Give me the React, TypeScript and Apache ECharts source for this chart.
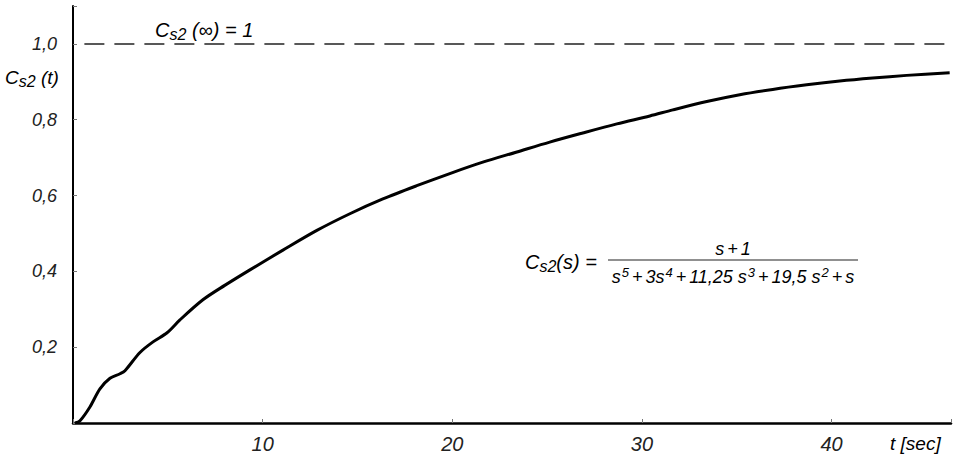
import React, { useEffect, useRef } from "react";
import * as echarts from "echarts";

// time t [sec] and step response C_s2(t)
const tValues = [0.1, 0.37, 0.9, 1.42, 1.95, 2.48, 2.74, 3.53, 4.22, 4.96, 5.64, 6.85, 8.0, 9.33, 11.07, 12.86, 14.6, 16.34, 18.13, 19.87, 21.61, 23.41, 25.14, 26.88, 28.68, 30.42, 31.63, 33.42, 35.16, 36.9, 38.69, 40.43, 42.17, 43.96, 46.23];
const cValues = [0, 0.006, 0.043, 0.09, 0.118, 0.13, 0.138, 0.186, 0.214, 0.238, 0.272, 0.325, 0.363, 0.404, 0.456, 0.508, 0.552, 0.591, 0.626, 0.658, 0.688, 0.715, 0.741, 0.765, 0.789, 0.81, 0.826, 0.848, 0.866, 0.88, 0.892, 0.902, 0.91, 0.917, 0.924];

// asymptote C_s2(inf) = 1
const asymptoteT = [0.6, 46.3];
const asymptoteC = [1, 1];

const xTickValues = [10, 20, 30, 40];
const xTickLabels = ["10", "20", "30", "40"];
const yTickValues = [0.2, 0.4, 0.6, 0.8, 1.0];
const yTickLabels = ["0,2", "0,4", "0,6", "0,8", "1,0"];

const FONT = "'Liberation Sans', Arimo, sans-serif";

export default function App() {
  const ref = useRef<HTMLDivElement>(null);
  useEffect(() => {
    document.body.style.margin = "0";
    const chart = echarts.init(ref.current!, null, { renderer: "svg" });
    const base = { fontFamily: FONT, fontStyle: "italic", color: "#222" };
    chart.setOption({
      animation: false,
      backgroundColor: "#fff",
      grid: { left: 73, right: 2, top: 6, bottom: 36, containLabel: false },
      xAxis: {
        type: "value",
        min: 0,
        max: 46.3,
        interval: 10,
        splitLine: { show: false },
        axisLine: { lineStyle: { color: "#000", width: 2.5 } },
        axisTick: { inside: true, length: 4, lineStyle: { color: "#777", width: 1 } },
        axisLabel: {
          margin: 11,
          ...base,
          fontSize: 20,
          formatter: (v: number) => {
            const i = xTickValues.indexOf(Math.round(v));
            return i >= 0 ? xTickLabels[i] : "";
          },
        },
      },
      yAxis: {
        type: "value",
        min: 0,
        max: 1.1,
        interval: 0.2,
        splitLine: { show: false },
        axisLine: { lineStyle: { color: "#000", width: 2 } },
        axisTick: { inside: true, length: 4, lineStyle: { color: "#777", width: 1 } },
        axisLabel: {
          margin: 16,
          ...base,
          fontSize: 18,
          formatter: (v: number) => {
            const r = Math.round(v * 10) / 10;
            const i = yTickValues.findIndex((y) => Math.abs(y - r) < 1e-6);
            return i >= 0 ? yTickLabels[i] : "";
          },
        },
      },
      series: [
        {
          type: "line",
          data: asymptoteT.map((t, i) => [t, asymptoteC[i]]),
          showSymbol: false,
          lineStyle: { color: "#222", width: 1.5, type: [20, 10] },
          silent: true,
        },
        {
          type: "line",
          data: tValues.map((t, i) => [t, cValues[i]]),
          showSymbol: false,
          smooth: 0.3,
          lineStyle: { color: "#000", width: 3 },
          silent: true,
        },
      ],
      graphic: [
        {
          type: "text",
          left: 5,
          top: 68,
          style: {
            text: "{c|C}{s|s2}{c| (t)}",
            rich: {
              c: { ...base, fontSize: 19 },
              s: { ...base, fontSize: 16, padding: [8, 0, 0, 0] },
            },
          },
        },
        {
          type: "text",
          left: 155,
          top: 20,
          style: {
            text: "{c|C}{s|s2}{c| (∞) = 1}",
            rich: {
              c: { ...base, fontSize: 20 },
              s: { ...base, fontSize: 16, padding: [8, 0, 0, 0] },
            },
          },
        },
        {
          type: "text",
          left: 890,
          top: 434,
          style: { text: "t [sec]", ...base, fontSize: 19 },
        },
        {
          type: "text",
          left: 525,
          top: 252,
          style: {
            text: "{c|C}{s|s2}{c|(s) =}",
            rich: {
              c: { ...base, fontSize: 20 },
              s: { ...base, fontSize: 16, padding: [8, 0, 0, 0] },
            },
          },
        },
        {
          type: "line",
          shape: { x1: 608, y1: 260, x2: 858, y2: 260 },
          style: { stroke: "#222", lineWidth: 1.2 },
        },
        {
          type: "text",
          x: 733,
          y: 249,
          style: {
            text: "{n|s}{o|+}{n|1}",
            align: "center",
            verticalAlign: "middle",
            rich: {
              n: { ...base, fontSize: 18 },
              o: { ...base, fontSize: 18, padding: [0, 3, 0, 3] },
            },
          },
        },
        {
          type: "text",
          x: 733,
          y: 277,
          style: {
            text: "{n|s}{p|5}{o|+}{n|3s}{p|4}{o|+}{n|11,25 s}{p|3}{o|+}{n|19,5 s}{p|2}{o|+}{n|s}",
            align: "center",
            verticalAlign: "middle",
            rich: {
              n: { ...base, fontSize: 18 },
              o: { ...base, fontSize: 18, padding: [0, 3, 0, 3] },
              p: { ...base, fontSize: 13, padding: [0, 0, 10, 1] },
            },
          },
        },
      ],
    });
    return () => chart.dispose();
  }, []);
  return <div ref={ref} style={{ width: 954, height: 459 }} />;
}
